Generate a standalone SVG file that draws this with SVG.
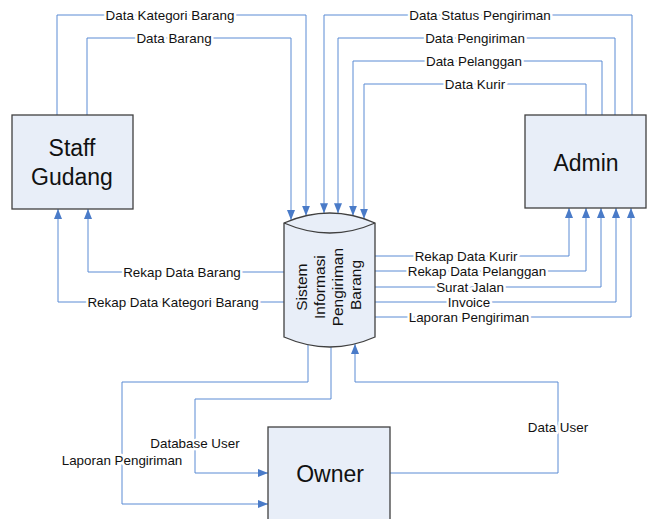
<svg xmlns="http://www.w3.org/2000/svg" width="650" height="519" viewBox="0 0 650 519">
<defs>
<marker id="arr" viewBox="0 0 10 8" markerWidth="10" markerHeight="8" refX="10" refY="4" orient="auto" markerUnits="userSpaceOnUse">
<path d="M0,0 L10,4 L0,8 z" fill="#4A7BC8"/>
</marker>
<style>
.node{fill:#E8EEF8;stroke:#404040;stroke-width:1.3}
.big{font-family:"Liberation Sans",Arial,sans-serif;font-size:23px;fill:#111;text-anchor:middle}
.cyl{font-family:"Liberation Sans",Arial,sans-serif;font-size:15.5px;fill:#111;text-anchor:middle}
.flow{fill:none;stroke:#5B8BD4;stroke-width:1;marker-end:url(#arr)}
.lbl{font-family:"Liberation Sans",Arial,sans-serif;font-size:13.4px;fill:#111;text-anchor:middle;stroke:#fff;stroke-width:5;paint-order:stroke;stroke-linejoin:round}
</style>
</defs>
<rect width="650" height="519" fill="#fff"/>

<g id="connectors">
<path class="flow" d="M57,115 V15 H306 V215.7"/>
<path class="flow" d="M87,115 V38 H291 V220"/>
<path class="flow" d="M632,115 V15 H324 V213.2"/>
<path class="flow" d="M615,115 V38 H338 V213.3"/>
<path class="flow" d="M602,115 V61 H353 V215.7"/>
<path class="flow" d="M586,115 V84 H364 V218.7"/>
<path class="flow" d="M284,272 H88 V209"/>
<path class="flow" d="M284,302 H58 V209"/>
<path class="flow" d="M375,256 H569 V208"/>
<path class="flow" d="M375,271 H586 V208"/>
<path class="flow" d="M375,287 H601 V208"/>
<path class="flow" d="M375,302 H616 V208"/>
<path class="flow" d="M375,317 H631 V208"/>
<path class="flow" d="M308,345 V382 H122 V504 H268"/>
<path class="flow" d="M331,347 V399 H195 V473 H268"/>
<path class="flow" d="M390,473 H558 V382 H355 V344"/>
<text class="lbl" x="170" y="19.5">Data Kategori Barang</text>
<text class="lbl" x="174" y="42.5">Data Barang</text>
<text class="lbl" x="480" y="19.5">Data Status Pengiriman</text>
<text class="lbl" x="475" y="42.5">Data Pengiriman</text>
<text class="lbl" x="474" y="65.5">Data Pelanggan</text>
<text class="lbl" x="475" y="88.5">Data Kurir</text>
<text class="lbl" x="182" y="276.5">Rekap Data Barang</text>
<text class="lbl" x="173" y="306.5">Rekap Data Kategori Barang</text>
<text class="lbl" x="466" y="260.5">Rekap Data Kurir</text>
<text class="lbl" x="477" y="275.5">Rekap Data Pelanggan</text>
<text class="lbl" x="470" y="291.5">Surat Jalan</text>
<text class="lbl" x="469" y="306.5">Invoice</text>
<text class="lbl" x="469" y="321.5">Laporan Pengiriman</text>
<text class="lbl" x="122" y="464.5">Laporan Pengiriman</text>
<text class="lbl" x="195" y="447.5">Database User</text>
<text class="lbl" x="558" y="431.5">Data User</text>
</g>

<g id="staff-gudang">
<rect class="node" x="12" y="115" width="121" height="94"/>
<text class="big" x="72" y="156">Staff</text>
<text class="big" x="72" y="185">Gudang</text>
</g>

<g id="admin">
<rect class="node" x="525" y="115" width="121" height="93"/>
<text class="big" x="586" y="171">Admin</text>
</g>

<g id="owner">
<rect class="node" x="268" y="427" width="122" height="100"/>
<text class="big" x="330" y="482">Owner</text>
</g>

<g id="sistem">
<path class="node" d="M284,223 Q330,203 375,223 V337 Q330,357 284,337 Z"/>
<path d="M284,223 Q330,243 375,223" fill="none" stroke="#404040" stroke-width="1.3"/>
<text class="cyl" transform="translate(329,285) rotate(-90)">
<tspan x="0" y="-22">Sistem</tspan>
<tspan x="0" y="-4">Informasi</tspan>
<tspan x="0" y="14">Pengiriman</tspan>
<tspan x="0" y="32">Barang</tspan>
</text>
</g>
</svg>
